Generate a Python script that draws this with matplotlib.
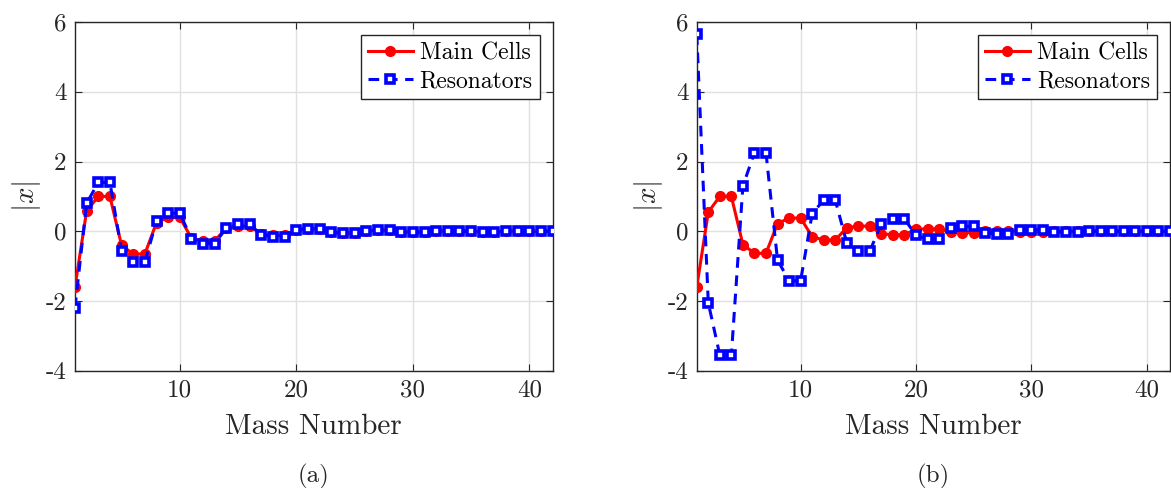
import numpy as np
import matplotlib
matplotlib.use("Agg")
import matplotlib.pyplot as plt

mass = list(range(1, 43))

main_a = [-1.6, 0.58, 1.0, 1.0, -0.4, -0.65, -0.65, 0.25, 0.4, 0.4,
          -0.2, -0.27, -0.27, 0.1, 0.15, 0.15, -0.08, -0.12, -0.12, 0.05,
          0.08, 0.08, -0.03, -0.05, -0.05, 0.02, 0.03, 0.03, -0.01, -0.02,
          -0.02, 0.01, 0.01, 0.01, 0.0, -0.01, -0.01, 0.0, 0.0, 0.0, 0.0, 0.0]
res_a = [-2.2, 0.8, 1.4, 1.4, -0.55, -0.88, -0.88, 0.3, 0.52, 0.52,
         -0.22, -0.35, -0.35, 0.1, 0.2, 0.2, -0.1, -0.15, -0.15, 0.05,
         0.08, 0.08, -0.03, -0.06, -0.06, 0.02, 0.03, 0.03, -0.01, -0.02,
         -0.02, 0.01, 0.01, 0.01, 0.0, -0.01, -0.01, 0.0, 0.0, 0.0, 0.0, 0.0]

main_b = [-1.6, 0.55, 1.0, 1.0, -0.38, -0.63, -0.63, 0.22, 0.38, 0.38,
          -0.15, -0.25, -0.25, 0.1, 0.15, 0.15, -0.07, -0.1, -0.1, 0.06,
          0.07, 0.07, -0.03, -0.04, -0.04, 0.02, 0.02, 0.02, -0.01, -0.01,
          -0.01, 0.0, 0.0, 0.0, 0.0, 0.0, 0.0, 0.0, 0.0, 0.0, 0.0, 0.0]
res_b = [5.65, -2.05, -3.55, -3.55, 1.3, 2.25, 2.25, -0.82, -1.42, -1.42,
         0.5, 0.9, 0.9, -0.33, -0.57, -0.57, 0.22, 0.36, 0.36, -0.12,
         -0.22, -0.22, 0.1, 0.14, 0.14, -0.04, -0.08, -0.08, 0.04, 0.05,
         0.05, -0.02, -0.02, -0.02, 0.01, 0.01, 0.01, 0.0, 0.0, 0.0, 0.0, 0.0]

yticks = [-4, -2, 0, 2, 4, 6]
ytick_labels = ["-4", "-2", "0", "2", "4", "6"]
xticks = [10, 20, 30, 40]
xtick_labels = ["10", "20", "30", "40"]
captions = ["(a)", "(b)"]

plt.rcParams['font.family'] = 'serif'
plt.rcParams['font.serif'] = ['cmr10', 'DejaVu Serif']
plt.rcParams['mathtext.fontset'] = 'cm'
plt.rcParams['axes.unicode_minus'] = False

fig = plt.figure(figsize=(11.71, 4.88), dpi=100)
positions = [[0.064, 0.240, 0.408, 0.715], [0.595, 0.240, 0.404, 0.715]]
datasets = [(main_a, res_a), (main_b, res_b)]

for pos, (m, r), cap in zip(positions, datasets, captions):
    ax = fig.add_axes(pos)
    ax.plot(mass, m, color='red', lw=2.2, marker='o', ms=7,
            mfc='red', mec='red', label='Main Cells', zorder=3)
    ax.plot(mass, r, color='blue', lw=2.2, ls=(0, (3.5, 2.5)), marker='s', ms=5.5,
            mfc='white', mec='blue', mew=2.6, label='Resonators', zorder=4)
    ax.set_xlim(1, 42)
    ax.set_ylim(-4, 6)
    ax.set_xticks(xticks)
    ax.set_xticklabels(xtick_labels)
    ax.set_yticks(yticks)
    ax.set_yticklabels(ytick_labels)
    ax.tick_params(direction='in', length=5, labelsize=18, colors='#262626',
                   top=True, right=True, pad=6)
    ax.grid(True, color='#e0e0e0', lw=1)
    ax.set_axisbelow(True)
    for s in ax.spines.values():
        s.set_color('#262626')
        s.set_linewidth(1)
    ax.set_xlabel('Mass Number', fontsize=21, color='#262626', labelpad=9)
    ax.set_ylabel('$|x|$', fontsize=21, color='#262626', labelpad=2)
    leg = ax.legend(loc='upper right', fontsize=17, frameon=True, fancybox=False,
                    edgecolor='#262626', framealpha=1, handlelength=1.9,
                    borderpad=0.3, labelspacing=0.25, handletextpad=0.3,
                    borderaxespad=0.55)
    leg.get_frame().set_linewidth(1)
    fig.text(pos[0] + pos[2] / 2, 1 - 476 / 488, cap, ha='center', va='center',
             fontsize=18, color='#262626')

fig.savefig('out.png', dpi=100)
